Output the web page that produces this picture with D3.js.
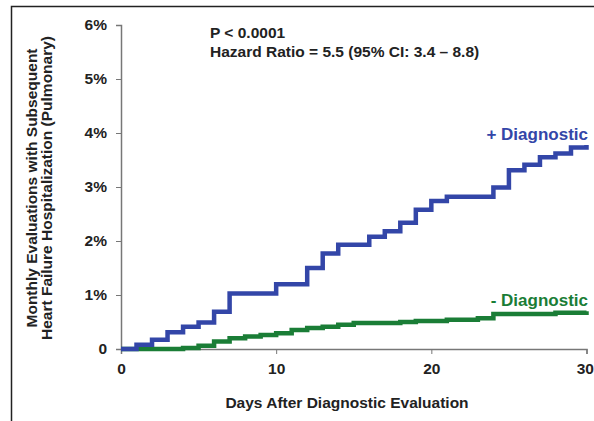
<!DOCTYPE html>
<html>
<head>
<meta charset="utf-8">
<script src="https://cdn.jsdelivr.net/npm/d3@7"></script>
<style>
  body { margin: 0; background: #fff; }
  text { font-family: "Liberation Sans", Arial, sans-serif; font-weight: bold; }
</style>
</head>
<body>
<div id="chart"></div>
<script>
// step points: day, cumulative % (value after the step)
const plusDays = [0, 1, 2, 3, 4, 5, 6, 7, 10, 12, 13, 14, 16, 17, 18, 19, 20, 21, 24, 25, 26, 27, 28, 29, 30];
const plusVals = [0, 0.08, 0.17, 0.31, 0.41, 0.49, 0.69, 1.03, 1.2, 1.5, 1.77, 1.93, 2.08, 2.18, 2.34, 2.58, 2.74, 2.82, 2.99, 3.31, 3.41, 3.55, 3.62, 3.73, 3.78];
const minusDays = [0, 1, 4, 5, 6, 7, 8, 9, 10, 11, 12, 13, 14, 15, 18, 19, 21, 23, 24, 28, 30];
const minusVals = [0, 0, 0.02, 0.06, 0.14, 0.2, 0.23, 0.26, 0.29, 0.35, 0.39, 0.41, 0.45, 0.48, 0.5, 0.52, 0.54, 0.57, 0.65, 0.67, 0.7];
const xTicks = [0, 10, 20, 30];
const yTicks = [0, 1, 2, 3, 4, 5, 6];

const width = 594, height = 421;
const margin = { top: 25, right: 8, bottom: 72, left: 121 };

const svg = d3.select("#chart").append("svg")
  .attr("width", width)
  .attr("height", height);

// outer frame (top and left edges only)
svg.append("path")
  .attr("d", "M11.5," + height + "V6.5H" + width)
  .attr("fill", "none")
  .attr("stroke", "#222")
  .attr("stroke-width", 1.5);

const x = d3.scaleLinear().domain([0, 30]).range([margin.left, 586.5]);
const y = d3.scaleLinear().domain([0, 6]).range([349, margin.top]);

const axisColor = "#777";
const font = "Liberation Sans, Arial, sans-serif";

// x axis
const gx = svg.append("g")
  .attr("transform", "translate(0," + y(0) + ")")
  .call(d3.axisBottom(x).tickValues(xTicks).tickSize(5).tickPadding(9));
gx.select(".domain").attr("stroke", axisColor).attr("stroke-width", 1.5);
gx.selectAll(".tick line").attr("stroke", axisColor);
gx.selectAll(".tick text").attr("font-size", 15.5).attr("fill", "#222")
  .attr("font-family", font).attr("font-weight", "bold");
// last label sits against the right edge, keep it inside
gx.selectAll(".tick text").filter(d => d === 30)
  .attr("text-anchor", "end").attr("x", 7);

// y axis
const gy = svg.append("g")
  .attr("transform", "translate(" + x(0) + ",0)")
  .call(d3.axisLeft(y).tickValues(yTicks).tickSize(5).tickPadding(9)
    .tickFormat(d => d === 0 ? "0" : d + "%"));
gy.select(".domain").attr("stroke", axisColor).attr("stroke-width", 1.5);
gy.selectAll(".tick line").attr("stroke", axisColor);
gy.selectAll(".tick text").attr("font-size", 15.5).attr("fill", "#222")
  .attr("font-family", font).attr("font-weight", "bold");

// step lines
const line = d3.line()
  .x(d => x(d[0]))
  .y(d => y(d[1]))
  .curve(d3.curveStepAfter);

const minusData = minusDays.map((d, i) => [d, minusVals[i]]);
const plusData = plusDays.map((d, i) => [d, plusVals[i]]);

svg.append("path")
  .datum(minusData)
  .attr("d", line)
  .attr("fill", "none")
  .attr("stroke", "#1a7d36")
  .attr("stroke-width", 4.5);

svg.append("path")
  .datum(plusData)
  .attr("d", line)
  .attr("fill", "none")
  .attr("stroke", "#3346a8")
  .attr("stroke-width", 4.5);

// series labels
svg.append("text")
  .attr("x", 588).attr("y", 140)
  .attr("text-anchor", "end")
  .attr("font-size", 17)
  .attr("fill", "#3346a8")
  .text("+ Diagnostic");

svg.append("text")
  .attr("x", 588).attr("y", 306)
  .attr("text-anchor", "end")
  .attr("font-size", 17)
  .attr("fill", "#1a7d36")
  .text("- Diagnostic");

// stats annotation
svg.append("text")
  .attr("x", 210).attr("y", 38)
  .attr("font-size", 15.5).attr("fill", "#222")
  .text("P < 0.0001");
svg.append("text")
  .attr("x", 210).attr("y", 57)
  .attr("font-size", 15.5).attr("fill", "#222")
  .text("Hazard Ratio = 5.5 (95% CI: 3.4 \u2013 8.8)");

// axis titles
svg.append("text")
  .attr("x", 347).attr("y", 408)
  .attr("text-anchor", "middle")
  .attr("font-size", 15.5).attr("fill", "#222")
  .text("Days After Diagnostic Evaluation");

const yTitle = svg.append("text")
  .attr("transform", "translate(0,188) rotate(-90)")
  .attr("text-anchor", "middle")
  .attr("font-size", 15.5).attr("fill", "#222");
yTitle.append("tspan").attr("x", 0).attr("y", 37).text("Monthly Evaluations with Subsequent");
yTitle.append("tspan").attr("x", 0).attr("y", 52).text("Heart Failure Hospitalization (Pulmonary)");
</script>
</body>
</html>
